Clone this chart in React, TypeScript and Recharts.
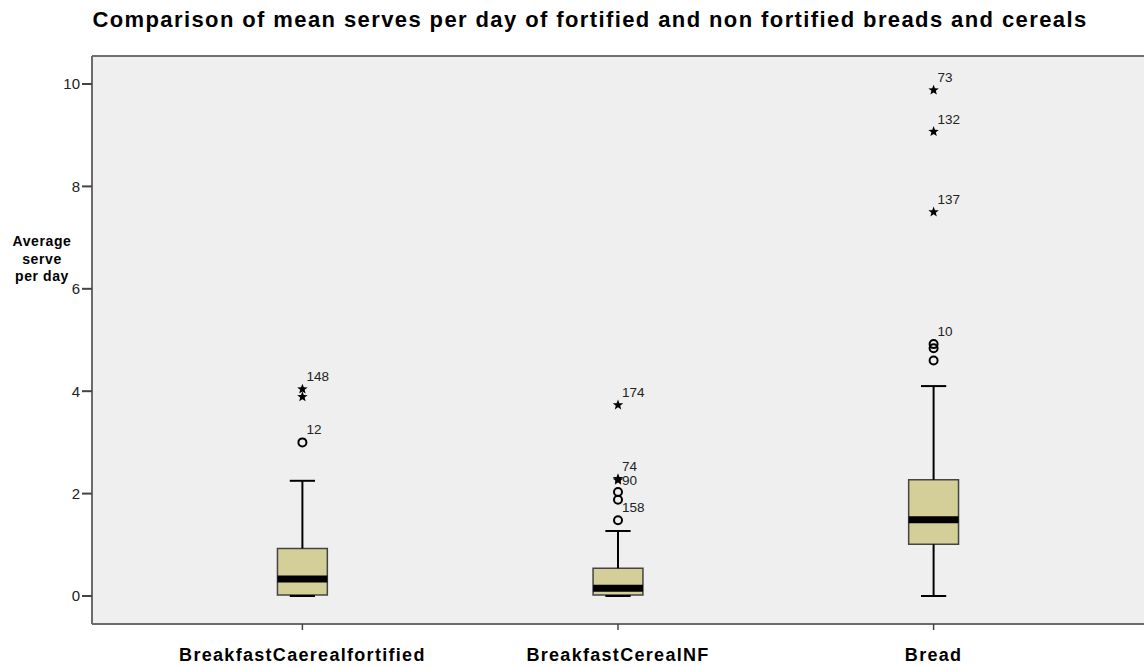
import React from "react";
import {
  ComposedChart,
  Scatter,
  XAxis,
  YAxis,
  CartesianGrid,
  ReferenceArea,
  ReferenceLine,
} from "recharts";

const categories = ["BreakfastCaerealfortified", "BreakfastCerealNF", "Bread"];
const lowWhisker = [0, 0, 0];
const q1 = [0.02, 0.02, 1.01];
const median = [0.33, 0.15, 1.49];
const q3 = [0.93, 0.54, 2.27];
const highWhisker = [2.25, 1.27, 4.1];

// outliers: which box, value, marker (o = outlier, * = extreme), case number
const outlierGroup = [0, 0, 0, 1, 1, 1, 1, 1, 1, 2, 2, 2, 2, 2, 2];
const outlierValue = [3.0, 3.89, 4.04, 1.48, 1.88, 2.03, 2.26, 2.29, 3.73, 4.6, 4.84, 4.92, 7.5, 9.07, 9.88];
const outlierMark = ["o", "*", "*", "o", "o", "o", "*", "*", "*", "o", "o", "o", "*", "*", "*"];
const outlierId = ["12", "", "148", "158", "", "", "90", "74", "174", "", "", "10", "137", "132", "73"];

const yTicks = [0, 2, 4, 6, 8, 10];

const FONT = "'Liberation Sans', Arial, sans-serif";
const BOX_HALF = 0.079;
const CAP_HALF = 0.04;
const X_DOMAIN = [1 / 3, 11 / 3];
const Y_DOMAIN = [-0.547, 10.547];
// labels SPSS pushed to the side instead of above the point
const sideLabels = ["90"];

const outliers = outlierValue.map((v, i) => ({
  x: outlierGroup[i] + 1,
  y: v,
  mark: outlierMark[i],
  id: outlierId[i],
}));

const starPath = (cx: number, cy: number, r: number) => {
  const pts: string[] = [];
  for (let k = 0; k < 10; k++) {
    const rad = k % 2 === 0 ? r : r * 0.42;
    const a = -Math.PI / 2 + (k * Math.PI) / 5;
    pts.push(`${(cx + rad * Math.cos(a)).toFixed(2)},${(cy + rad * Math.sin(a)).toFixed(2)}`);
  }
  return "M" + pts.join("L") + "Z";
};

const OutlierShape = (props: any) => {
  const { cx, cy, payload } = props;
  if (cx == null || cy == null) return null;
  const side = sideLabels.includes(payload.id);
  return (
    <g>
      {payload.mark === "o" ? (
        <circle cx={cx} cy={cy} r={4} fill="none" stroke="#000" strokeWidth={2} />
      ) : (
        <path d={starPath(cx, cy, 5.5)} fill="#000" />
      )}
      {payload.id && (
        <text
          x={cx + 4}
          y={side ? cy + 5 : cy - 8}
          fontSize={13.5}
          fontFamily={FONT}
          fill="#222"
        >
          {payload.id}
        </text>
      )}
    </g>
  );
};

const XTick = (props: any) => {
  const { x, y, payload } = props;
  return (
    <text
      x={x}
      y={y}
      dy={23}
      textAnchor="middle"
      fontSize={18}
      fontWeight="bold"
      fontFamily={FONT}
      letterSpacing={1.3}
      fill="#000"
    >
      {categories[payload.value - 1]}
    </text>
  );
};

const BoxPlotChart = () => {
  const boxes = categories.map((c, i) => {
    const x = i + 1;
    return [
      <ReferenceLine
        key={c + "lw"}
        segment={[{ x, y: lowWhisker[i] }, { x, y: q1[i] }]}
        stroke="#000"
        strokeWidth={2}
      />,
      <ReferenceLine
        key={c + "hw"}
        segment={[{ x, y: q3[i] }, { x, y: highWhisker[i] }]}
        stroke="#000"
        strokeWidth={2}
      />,
      <ReferenceLine
        key={c + "lc"}
        segment={[{ x: x - CAP_HALF, y: lowWhisker[i] }, { x: x + CAP_HALF, y: lowWhisker[i] }]}
        stroke="#000"
        strokeWidth={2}
      />,
      <ReferenceLine
        key={c + "hc"}
        segment={[{ x: x - CAP_HALF, y: highWhisker[i] }, { x: x + CAP_HALF, y: highWhisker[i] }]}
        stroke="#000"
        strokeWidth={2}
      />,
      <ReferenceArea
        key={c + "box"}
        x1={x - BOX_HALF}
        x2={x + BOX_HALF}
        y1={q1[i]}
        y2={q3[i]}
        fill="#D4CF98"
        fillOpacity={1}
        stroke="#444"
        strokeWidth={1.5}
      />,
      <ReferenceLine
        key={c + "med"}
        segment={[{ x: x - BOX_HALF, y: median[i] }, { x: x + BOX_HALF, y: median[i] }]}
        stroke="#000"
        strokeWidth={7}
      />,
    ];
  });

  return (
    <div style={{ position: "absolute", left: 0, top: 0, width: 1145, height: 668, background: "#fff" }}>
      <div
        style={{
          position: "absolute",
          left: 40,
          width: 1100,
          top: 8,
          textAlign: "center",
          fontFamily: FONT,
          fontWeight: "bold",
          fontSize: 22,
          letterSpacing: "1.4px",
          lineHeight: "24px",
          whiteSpace: "nowrap",
        }}
      >
        Comparison of mean serves per day of fortified and non fortified breads and cereals
      </div>
      <div
        style={{
          position: "absolute",
          left: 0,
          width: 84,
          top: 233,
          textAlign: "center",
          fontFamily: FONT,
          fontWeight: "bold",
          fontSize: 14,
          letterSpacing: "0.6px",
          lineHeight: "17.5px",
        }}
      >
        Average
        <br />
        serve
        <br />
        per day
      </div>
      <ComposedChart
        width={1145}
        height={668}
        data={outliers}
        margin={{ top: 56, right: 1, bottom: 0, left: 0 }}
        style={{ fontFamily: FONT }}
      >
        <CartesianGrid fill="#EFEFEF" horizontal={false} vertical={false} />
        <XAxis
          dataKey="x"
          type="number"
          domain={X_DOMAIN}
          ticks={[1, 2, 3]}
          allowDataOverflow
          height={44}
          tickSize={6}
          tickMargin={8}
          tick={<XTick />}
          axisLine={{ stroke: "#6b6b6b", strokeWidth: 2 }}
          tickLine={{ stroke: "#444", strokeWidth: 1.5 }}
        />
        <YAxis
          dataKey="y"
          type="number"
          domain={Y_DOMAIN}
          ticks={yTicks}
          allowDataOverflow
          width={92}
          tickSize={10}
          tickMargin={2}
          tick={{ fill: "#222", fontSize: 15, fontFamily: FONT }}
          axisLine={{ stroke: "#6b6b6b", strokeWidth: 2 }}
          tickLine={{ stroke: "#444", strokeWidth: 2 }}
        />
        <YAxis
          yAxisId="right"
          orientation="right"
          type="number"
          domain={Y_DOMAIN}
          allowDataOverflow
          width={0}
          tick={false}
          tickLine={false}
          axisLine={{ stroke: "#909090", strokeWidth: 2 }}
        />
        <ReferenceLine y={Y_DOMAIN[1]} stroke="#707070" strokeWidth={2} ifOverflow="visible" />
        {boxes}
        <Scatter data={outliers} shape={<OutlierShape />} isAnimationActive={false} />
      </ComposedChart>
    </div>
  );
};

export default function App() {
  return <BoxPlotChart />;
}
